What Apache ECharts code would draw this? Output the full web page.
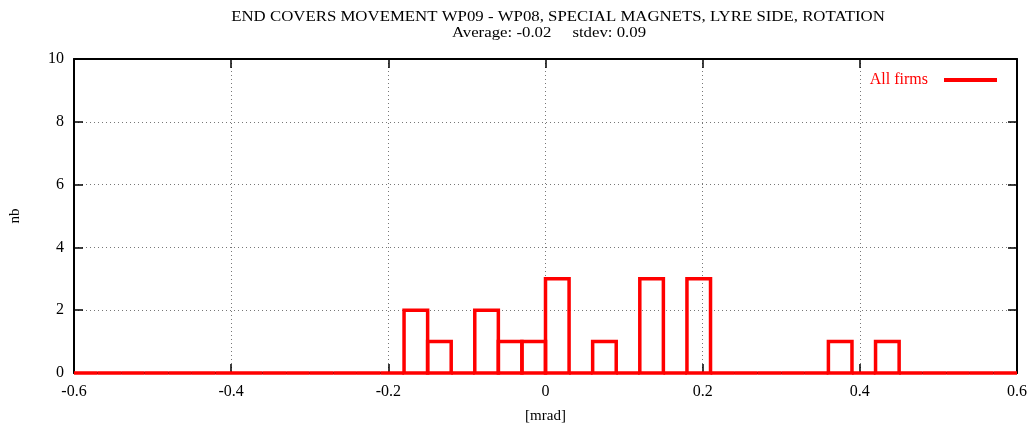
<!DOCTYPE html>
<html>
<head>
<meta charset="utf-8">
<script src="https://cdn.jsdelivr.net/npm/echarts@6/dist/echarts.min.js"></script>
<style>
  html, body { margin: 0; padding: 0; background: #fff; }
  #chart { width: 1032px; height: 429px; }
</style>
</head>
<body>
<div id="chart"></div>
<script>
// Histogram of end-cover rotation differences (WP09 - WP08), bins of 0.03 mrad
const titleLine1 = 'END COVERS MOVEMENT WP09 - WP08, SPECIAL MAGNETS, LYRE SIDE, ROTATION';
const titleLine2 = 'Average: -0.02     stdev: 0.09';
const seriesName = 'All firms';
const xName = '[mrad]';
const yName = 'nb';

const binStart = -0.6;
const binWidth = 0.03;
// counts per bin, from -0.6 to 0.6
const counts = [
  0, 0, 0, 0, 0, 0, 0, 0, 0, 0,
  0, 0, 0, 0, 2, 1, 0, 2, 1, 1,
  3, 0, 1, 0, 3, 0, 3, 0, 0, 0,
  0, 0, 1, 0, 1, 0, 0, 0, 0, 0
];
const xTicks = [-0.6, -0.4, -0.2, 0, 0.2, 0.4, 0.6];
const yTicks = [0, 2, 4, 6, 8, 10];

const bins = counts.map((c, i) => {
  const lo = binStart + i * binWidth;
  return [lo, lo + binWidth, c];
});

const serif = '"Liberation Serif", "DejaVu Serif", serif';
const chart = echarts.init(document.getElementById('chart'), null, { renderer: 'canvas' });

const gridLine = { show: true, lineStyle: { color: '#777', width: 1, type: [1, 3] } };
const tickStyle = { show: true, inside: true, length: 9, lineStyle: { color: '#000', width: 1.5 } };
const frameLine = { show: true, onZero: false, lineStyle: { color: '#000', width: 2 } };
const pickTick = (list) => (v) => {
  const t = list.find(k => Math.abs(k - v) < 1e-9);
  return t === undefined ? '' : String(t);
};

chart.setOption({
  animation: false,
  backgroundColor: '#fff',
  graphic: [
    { type: 'text', x: 558, y: 17, scaleX: 1.12,
      style: { text: titleLine1, textAlign: 'center', textVerticalAlign: 'middle', font: '15px ' + serif, fill: '#000' } },
    { type: 'text', x: 549, y: 33, scaleX: 1.12,
      style: { text: titleLine2, textAlign: 'center', textVerticalAlign: 'middle', font: '15px ' + serif, fill: '#000' } }
  ],
  legend: {
    data: [{ name: seriesName, icon: 'rect' }],
    right: 30,
    top: 67,
    align: 'right',
    itemWidth: 53,
    itemHeight: 4,
    itemGap: 8,
    textStyle: { color: '#ff0000', fontFamily: serif, fontSize: 16, padding: [0, 11, 0, 0] },
    selectedMode: false
  },
  grid: { left: 72, right: 15, top: 59, bottom: 54, containLabel: false },
  xAxis: [{
    type: 'value', min: -0.6, max: 0.6, interval: 0.2,
    name: xName, nameLocation: 'middle', nameGap: 36,
    nameTextStyle: { fontFamily: serif, fontSize: 15, color: '#000' },
    axisLine: frameLine,
    axisTick: tickStyle,
    axisLabel: { color: '#000', fontFamily: serif, fontSize: 16, margin: 11, formatter: pickTick(xTicks) },
    splitLine: gridLine
  }, {
    type: 'value', position: 'top', min: -0.6, max: 0.6, interval: 0.2,
    axisLine: frameLine, axisTick: tickStyle, axisLabel: { show: false }, splitLine: { show: false }
  }],
  yAxis: [{
    type: 'value', min: 0, max: 10, interval: 2,
    name: yName, nameLocation: 'middle', nameGap: 51, nameRotate: 90,
    nameTextStyle: { fontFamily: serif, fontSize: 15, color: '#000' },
    axisLine: frameLine,
    axisTick: tickStyle,
    axisLabel: { color: '#000', fontFamily: serif, fontSize: 16, margin: 10, formatter: pickTick(yTicks) },
    splitLine: gridLine
  }, {
    type: 'value', position: 'right', min: 0, max: 10, interval: 2,
    axisLine: frameLine, axisTick: tickStyle, axisLabel: { show: false }, splitLine: { show: false }
  }],
  series: [{
    name: seriesName,
    type: 'custom',
    xAxisIndex: 0,
    yAxisIndex: 0,
    itemStyle: { color: '#ff0000' },
    data: bins,
    encode: { x: [0, 1], y: 2 },
    renderItem: (params, api) => {
      const p0 = api.coord([api.value(0), api.value(2)]);
      const p1 = api.coord([api.value(1), 0]);
      return {
        type: 'rect',
        shape: { x: p0[0], y: p0[1], width: p1[0] - p0[0], height: p1[1] - p0[1] },
        style: { fill: 'none', stroke: '#ff0000', lineWidth: 3.5 }
      };
    }
  }]
});
</script>
</body>
</html>
